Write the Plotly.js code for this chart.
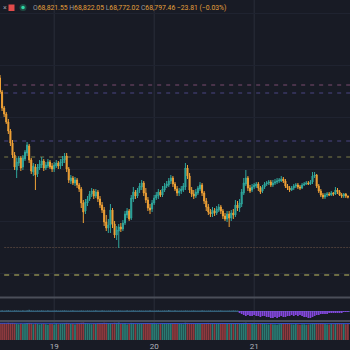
<!DOCTYPE html>
<html><head><meta charset="utf-8">
<script src="https://cdn.plot.ly/plotly-3.0.1.min.js"></script>
<style>html,body{margin:0;padding:0;background:#181b25;}#chart{width:350px;height:350px;}</style>
</head><body><div id="chart"></div>
<script>
// 30-minute candles starting 2024-03-18 11:00
const startISO = '2024-03-18T11:00:00Z';
const stepMinutes = 30;

const openP = [71180,70900,70580,70460,70300,70120,69880,69640,69340,69480,
69580,69400,69560,69680,69820,69540,69300,69400,69260,69380,
69440,69520,69380,69420,69500,69420,69360,69420,69480,69420,
69480,69540,69620,69360,69120,69180,69080,69140,69040,68960,
68680,68520,68680,68760,68860,68920,68820,68900,68760,68640,
68540,68300,68180,68240,68540,68260,68040,68120,68200,68160,
68280,68440,68520,68380,68760,68900,68820,68940,69000,69080,
68880,68740,68580,68560,68680,68780,68820,68900,68840,68940,
69020,69040,69120,69180,69060,68960,68880,68920,68940,69000,
69380,69220,68940,68860,68820,68880,68960,69040,68880,68720,
68600,68500,68460,68520,68480,68540,68600,68520,68420,68360,
68460,68380,68480,68440,68640,68580,68660,68880,69060,69180,
68980,68940,69000,69020,69060,68980,68920,69000,69060,69080,
69100,69040,69080,69100,69120,69120,69160,69120,69020,68980,
68940,68980,69020,69040,69000,68980,69040,69060,69080,69060,
69100,69220,69240,69020,68920,68840,68800,68840,68860,68840,
68880,68860,68940,68900,68840,68820,68860,68821.55];

const highP = [71240,70940,70620,70500,70360,70160,69940,69700,69580,69620,
69620,69640,69740,69900,69860,69580,69480,69460,69460,69540,
69600,69560,69500,69560,69540,69480,69500,69540,69520,69560,
69620,69680,69680,69400,69240,69220,69200,69180,69080,69000,
68740,68760,68820,68920,68980,68960,68960,68940,68820,68700,
68600,68440,68360,68660,68580,68320,68220,68260,68280,68340,
68520,68580,68560,68840,69000,68940,68980,69080,69140,69120,
68980,68800,68660,68740,68840,68900,68960,68940,69020,69080,
69120,69180,69240,69220,69100,69020,68980,69020,69080,69480,
69440,69280,69000,68940,68960,69020,69100,69080,68920,68780,
68660,68560,68600,68580,68620,68660,68640,68560,68480,68520,
68520,68540,68560,68740,68720,68760,68960,69180,69340,69220,
69040,69060,69080,69100,69100,69020,69040,69100,69120,69140,
69140,69140,69160,69180,69180,69220,69200,69160,69060,69020,
69020,69060,69080,69080,69040,69080,69100,69120,69120,69140,
69300,69300,69260,69060,68960,68880,68880,68900,68900,68920,
68900,69000,68980,68940,68880,68880,68880,68822.05];

const lowP = [70860,70520,70400,70260,70060,69820,69580,69340,69180,69420,
69320,69340,69520,69620,69480,69260,69220,68940,69200,69340,
69380,69320,69340,69380,69360,69300,69300,69380,69360,69360,
69420,69480,69300,69080,69060,69040,69020,68980,68900,68580,
68280,68460,68620,68720,68800,68760,68780,68700,68580,68480,
68220,68120,68080,68080,68180,67980,67940,67780,68100,68120,
68240,68380,68320,68340,68700,68760,68780,68880,68940,68820,
68680,68520,68460,68500,68640,68740,68760,68800,68800,68900,
68980,69000,69060,69000,68920,68820,68820,68860,68900,68940,
69160,68880,68800,68760,68780,68840,68920,68820,68660,68520,
68440,68400,68400,68420,68440,68500,68460,68360,68320,68300,
68200,68320,68360,68400,68520,68500,68600,68840,69020,68920,
68880,68900,68960,68980,68920,68860,68880,68960,69020,69040,
69000,69000,69040,69060,69080,69100,69080,68980,68940,68900,
68920,68940,68980,68960,68940,68960,69020,69040,69040,69040,
69060,69180,68980,68880,68800,68760,68760,68800,68820,68820,
68820,68840,68860,68820,68780,68780,68780,68772.02];

const closeP = [70900,70580,70460,70300,70120,69880,69640,69400,69500,69580,
69380,69580,69700,69840,69540,69320,69420,69240,69400,69460,
69520,69380,69440,69500,69400,69360,69440,69480,69420,69500,
69560,69620,69360,69140,69180,69080,69140,69040,68960,68680,
68500,68700,68760,68860,68920,68820,68900,68760,68640,68540,
68300,68180,68240,68540,68260,68040,68140,68200,68160,68280,
68460,68520,68360,68780,68900,68820,68940,69020,69080,68880,
68740,68580,68540,68680,68780,68840,68900,68840,68960,69020,
69060,69120,69180,69060,68960,68880,68920,68960,69020,69380,
69220,68940,68860,68820,68900,68980,69040,68880,68720,68600,
68500,68460,68540,68480,68560,68600,68520,68420,68360,68460,
68380,68480,68440,68640,68580,68680,68900,69080,69180,68980,
68920,69000,69040,69060,68980,68900,69000,69060,69080,69100,
69040,69080,69100,69120,69140,69160,69120,69020,68980,68940,
68980,69020,69040,69000,68980,69040,69060,69080,69060,69100,
69220,69240,69020,68920,68840,68800,68840,68860,68840,68880,
68860,68940,68900,68840,68820,68860,68820,68797.46];

const volume = [95,93,94,92,96,94,95,93,90,88,
92,89,91,94,95,93,88,92,90,87,
89,91,88,86,90,89,87,92,88,90,
91,93,95,94,89,90,87,91,93,96,
97,94,92,90,88,91,89,93,94,95,
96,95,92,94,93,96,95,97,91,90,
93,88,90,95,94,89,90,91,92,93,
94,95,93,92,91,89,88,90,91,92,
90,93,94,95,94,91,89,90,88,96,
95,94,92,90,89,91,92,90,93,94,
95,92,91,90,89,92,93,94,91,90,
93,92,91,94,92,93,94,95,96,93,
92,90,89,88,91,92,90,89,88,87,
89,88,87,86,88,89,90,91,92,90,
88,87,89,88,86,87,88,86,87,88,
93,90,92,93,94,92,89,88,87,89,
88,90,92,91,89,90,88,89];

// volume average, one reading every 6 hours
const volAvg = [93,93,92,92,93,94,93,93,92,92,92,91,90,91,91];

const indicator = [0.6,0.8,0.5,0.7,0.9,0.6,0.5,0.8,0.7,0.6,
0.5,0.7,0.6,0.8,1.2,0.7,0.6,0.5,0.7,0.6,
0.8,0.6,0.5,0.7,0.6,0.5,0.6,0.7,0.5,0.6,
0.7,0.8,0.6,0.5,0.6,0.7,0.5,0.6,0.5,0.7,
0.6,0.5,0.7,0.6,0.5,0.6,0.8,0.6,0.5,0.7,
0.6,0.5,0.6,0.7,0.5,0.6,0.5,0.7,0.6,0.5,
0.6,0.7,0.5,0.6,0.8,0.6,0.5,0.7,0.6,0.5,
0.6,0.5,0.7,0.6,0.5,0.6,0.7,0.5,0.6,0.7,
0.6,1.0,0.6,0.5,0.7,0.6,0.5,0.6,0.5,0.7,
0.6,0.5,0.6,0.7,0.5,0.6,0.5,0.7,0.6,0.5,
0.6,0.7,0.5,0.6,0.5,0.6,0.7,0.5,0.6,0.5,
0.6,0.5,0.7,0.6,0.5,
-2,-3,-4,-5,-4,-5,-5,-4,-5,-5,
-6,-5,-5,-6,-6,-7,-7,-6,-7,-6,
-5,-6,-6,-5,-5,-4,-5,-4,-5,-4,
-5,-6,-6,-7,-7,-6,-5,-4,-4,-3,
-3,-3,-3,-2,-2,-2,-2,-2,-2,-2,
-1,-1,-1];

const levels = [71040, 70880, 69920, 69600, 67790, 67240];
const levelColors = ['#7a4d70', '#4a4684', '#4a4684', '#7c7c48', '#4a3d39', '#6c6c44'];
const levelDash = ['4px,5px', '4px,5px', '4px,5px', '4px,5px', '2px,1px', '5px,5px'];
const levelWidth = [1, 1, 1, 1, 1, 2];

const tickDays = ['2024-03-19', '2024-03-20', '2024-03-21'];
const tickLabels = ['19', '20', '21'];

const header = [['O','68,821.55'],['H','68,822.05'],['L','68,772.02'],['C','68,797.46']];
const change = '−23.81 (−0.03%)';

function fmt(ms){ return new Date(ms).toISOString().slice(0,16).replace('T',' '); }
const t0 = Date.parse(startISO);
const times = openP.map((_, i) => fmt(t0 + i*stepMinutes*60000));
const avgTimes = volAvg.map((_, k) => fmt(t0 + k*12*stepMinutes*60000));
const xEnd = fmt(t0 + 168*stepMinutes*60000);

const TEAL = '#2fa79d', ORANGE = '#f0a236';
const H = 350;
const py = v => 1 - v/H;

const traces = [
  {type:'candlestick', x:times, open:openP, high:highP, low:lowP, close:closeP,
   xaxis:'x', yaxis:'y', whiskerwidth:0, hoverinfo:'skip',
   increasing:{line:{color:TEAL, width:1}, fillcolor:TEAL},
   decreasing:{line:{color:ORANGE, width:1}, fillcolor:ORANGE}},
  {type:'bar', x:times, y:indicator, xaxis:'x', yaxis:'y2', hoverinfo:'skip',
   marker:{color:indicator.map(v => v < -0.9 ? '#8347dc' : '#3a6a82'), line:{width:0}}},
  {type:'bar', x:times, y:volume, xaxis:'x', yaxis:'y3', hoverinfo:'skip',
   marker:{color:closeP.map((c,i) => c < openP[i] ? '#8e3a3e' : '#2b7a72'), line:{width:0}}},
  {type:'scatter', mode:'lines', x:avgTimes, y:volAvg, xaxis:'x', yaxis:'y3', hoverinfo:'skip',
   line:{color:'#3552d4', width:1}}
];

const shapes = [];
tickDays.forEach(d => shapes.push({type:'line', xref:'x', yref:'paper', x0:d, x1:d, y0:py(340), y1:1,
  line:{color:'#2a2e3a', width:1}, layer:'below'}));
levels.forEach((lv, k) => shapes.push({type:'line', xref:'x', yref:'y', x0:times[2], x1:xEnd, y0:lv, y1:lv,
  line:{color:levelColors[k], width:levelWidth[k], dash:levelDash[k]}, layer:'below'}));
[297.5, 321].forEach(v => shapes.push({type:'line', xref:'paper', yref:'paper', x0:0, x1:1, y0:py(v), y1:py(v),
  line:{color:'#4a4e59', width:2}}));
// header icons
shapes.push({type:'rect', xref:'paper', yref:'paper', x0:8.5/H, x1:14.5/H, y0:py(11), y1:py(4.5),
  fillcolor:'#e14b4b', line:{width:0}});
shapes.push({type:'circle', xref:'paper', yref:'paper', x0:19.5/H, x1:26.5/H, y0:py(11), y1:py(4),
  fillcolor:'#1e4a42', line:{width:0}});
shapes.push({type:'circle', xref:'paper', yref:'paper', x0:21.2/H, x1:24.8/H, y0:py(9.3), y1:py(5.7),
  fillcolor:'#2fd6a4', line:{width:0}});

const grey = '#9598a1', gold = '#e5a03c';
let headerHtml = header.map(p => `<span style="color:${grey}">${p[0]}</span><span style="color:${gold}">${p[1]}</span>`).join(' ');
headerHtml += ` <span style="color:${gold}">${change}</span>`;

const layout = {
  width:350, height:350, margin:{l:0, r:0, t:0, b:0},
  paper_bgcolor:'#181b25', plot_bgcolor:'rgba(0,0,0,0)',
  showlegend:false, barmode:'overlay', bargap:0.15,
  font:{family:'Roboto, sans-serif', color:'#b2b5be'},
  xaxis:{type:'date', range:[times[0], xEnd], anchor:'y3', showgrid:false, zeroline:false, showline:false,
    tickvals:tickDays, ticktext:tickLabels, ticks:'', tickfont:{size:8, color:'#b2b5be'},
    rangeslider:{visible:false}, fixedrange:true},
  yaxis:{domain:[py(297), 1], range:[72740 - 20*297, 72740], showticklabels:false, showgrid:true,
    gridcolor:'#1f2330', dtick:1040, tick0:71440, zeroline:false, fixedrange:true},
  yaxis2:{domain:[py(320), py(298)], range:[-9, 13], showticklabels:false, showgrid:false,
    zeroline:true, zerolinecolor:'#33607a', zerolinewidth:1, fixedrange:true},
  yaxis3:{domain:[py(340), py(322)], range:[0, 100], showticklabels:false, showgrid:false,
    zeroline:false, fixedrange:true},
  shapes:shapes,
  annotations:[
    {xref:'paper', yref:'paper', x:31/H, y:py(7.5), xanchor:'left', yanchor:'middle', showarrow:false,
     text:headerHtml, font:{size:6.8, family:'Roboto, sans-serif'}},
    {xref:'paper', yref:'paper', x:0.5/H, y:py(7.5), xanchor:'left', yanchor:'middle', showarrow:false,
     text:'×', font:{size:7, color:grey}}
  ]
};

Plotly.newPlot('chart', traces, layout, {staticPlot:true, displayModeBar:false});
</script>
</body></html>
